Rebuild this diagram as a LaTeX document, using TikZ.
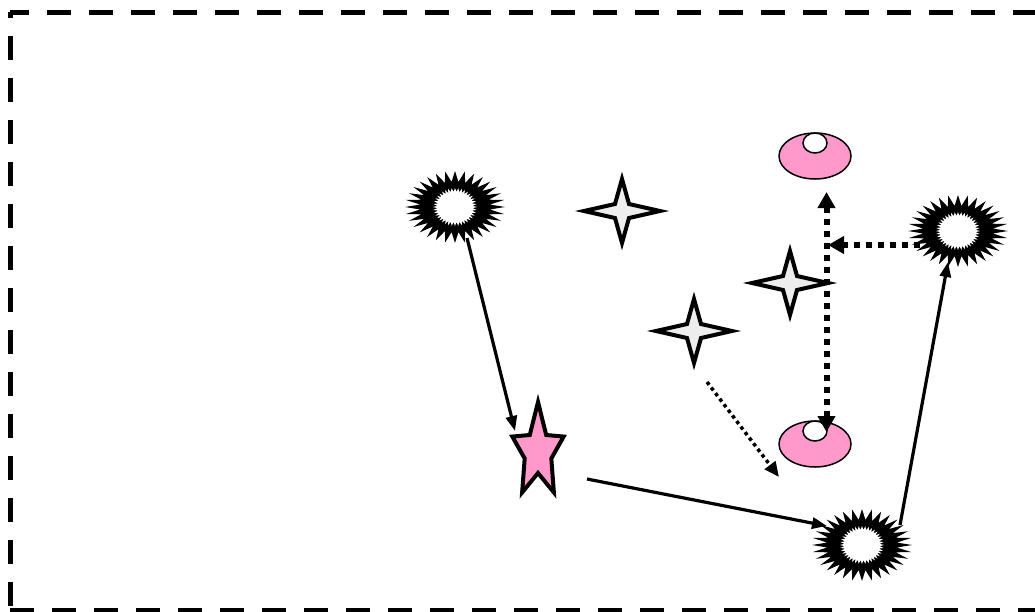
\documentclass[tikz,border=0pt]{standalone}
\usetikzlibrary{arrows.meta}
\definecolor{starpink}{HTML}{FF99CC}
\definecolor{sparkgray}{HTML}{EDEDED}
\tikzset{
  burst/.pic={
    \fill[black] (0:50 and 36) \foreach \i [evaluate=\i as \r using {mod(\i,2)==0?1:0.7}] in {1,...,63} {-- (\i*5.625:{50*\r} and {36*\r})} -- cycle;
    \fill[white] (0:22 and 19) \foreach \i [evaluate=\i as \r using {mod(\i,2)==0?1:0.8}] in {1,...,79} {-- (\i*4.5:{22*\r} and {19*\r})} -- cycle;
  },
  spark/.pic={
    \draw[line width=4pt,fill=sparkgray] (0,-32) -- (7,-7) -- (38,0) -- (7,7) -- (0,32) -- (-7,7) -- (-38,0) -- (-7,-7) -- cycle;
  },
  pinkstar/.pic={
    \draw[line width=4pt,fill=starpink] (-90:27 and 50) \foreach \a in {0,72,...,288} {-- ({\a-54}:14 and 21) -- ({\a-18}:27 and 50)} -- cycle;
  },
  blob/.pic={
    \draw[line width=1.5pt,fill=starpink] (0,0) ellipse (36 and 23);
    \draw[line width=1.5pt,fill=white] (0,-13) ellipse (12 and 10);
  },
  link/.style={line width=3.2pt,-{Triangle[length=15pt,width=11pt]}},
  thicklink/.style={line width=6pt,dash pattern=on 6pt off 6pt,-{Triangle[length=16pt,width=17pt]}},
  thinlink/.style={line width=3.5pt,dash pattern=on 3.5pt off 3.5pt,-{Triangle[length=15pt,width=13pt]}}
}
\begin{document}
\begin{tikzpicture}[x=1pt,y=-1pt]
\useasboundingbox (0,0) rectangle (1035,611);
\clip (0,0) rectangle (1035,611);
\draw[line width=5pt,dash pattern=on 24pt off 18pt,dash phase=5pt] (10,12) -- (1045,12);
\draw[line width=5pt,dash pattern=on 24pt off 18pt,dash phase=18pt] (10,12) -- (10,610);
\draw[line width=5pt,dash pattern=on 24pt off 18pt] (10,610) -- (1045,610);
\coordinate (b1) at (455,207);
\coordinate (b2) at (958,231);
\coordinate (b3) at (862,545);
\coordinate (s1) at (622,211);
\coordinate (s2) at (790,283);
\coordinate (s3) at (694,331);
\coordinate (pk) at (538,452);
\coordinate (e1) at (815,156);
\coordinate (e2) at (815,444);
\pic at (b1) {burst};
\pic at (b2) {burst};
\pic at (b3) {burst};
\pic at (s1) {spark};
\pic at (s2) {spark};
\pic at (s3) {spark};
\pic at (pk) {pinkstar};
\pic at (e1) {blob};
\pic at (e2) {blob};
\coordinate (b1out) at (467,238);
\coordinate (pkin) at (515,431);
\coordinate (pkout) at (587,479);
\coordinate (b3in) at (827,526);
\coordinate (b3out) at (900,525);
\coordinate (b2in) at (948,262);
\coordinate (b2out) at (920,245);
\coordinate (vline) at (828,245);
\coordinate (e1in) at (826.5,192);
\coordinate (e2in) at (826.5,432);
\coordinate (s3out) at (707,382);
\coordinate (e2side) at (779,477);
\draw[link] (b1out) -- (pkin);
\draw[link] (pkout) -- (b3in);
\draw[link] (b3out) -- (b2in);
\draw[thicklink] (b2out) -- (vline);
\draw[thicklink,{Triangle[length=16pt,width=17pt]}-{Triangle[length=16pt,width=17pt]}] (e1in) -- (e2in);
\draw[thinlink] (s3out) -- (e2side);
\end{tikzpicture}
\end{document}
